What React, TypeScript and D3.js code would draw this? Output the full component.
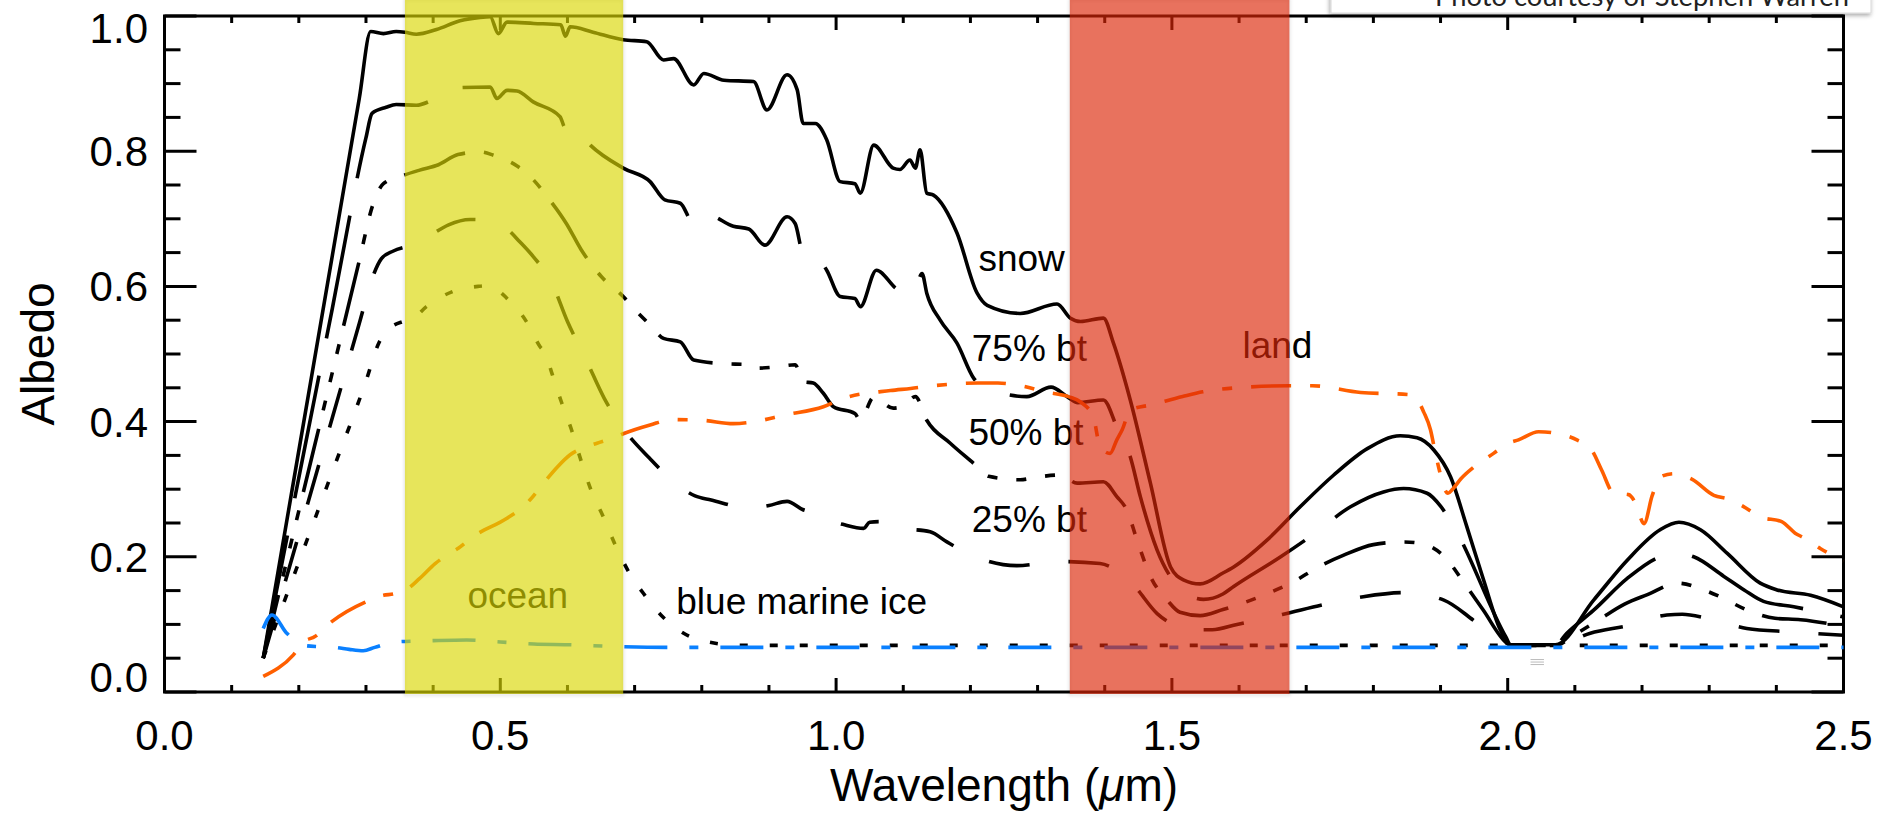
import React from "react";
import * as d3 from "d3";

type Pt = [number, number];

// Axis ticks and labels
const xMajorTicks = [0, 0.5, 1.0, 1.5, 2.0, 2.5];
const xTickLabels = ["0.0", "0.5", "1.0", "1.5", "2.0", "2.5"];
const yMajorTicks = [0, 0.2, 0.4, 0.6, 0.8, 1.0];
const yTickLabels = ["0.0", "0.2", "0.4", "0.6", "0.8", "1.0"];

// Highlighted wavelength bands (µm)
const visibleBand: Pt = [0.358, 0.683];
const nirBand: Pt = [1.348, 1.675];

// Spectral albedo curves: [wavelength µm, albedo]
const snow: Pt[] = [
  [0.147, 0.05], [0.2, 0.357], [0.25, 0.646], [0.29, 0.878], [0.307, 0.977], [0.326, 0.974],
  [0.345, 0.977], [0.358, 0.976], [0.375, 0.973],
  [0.405, 0.98], [0.44, 0.993], [0.47, 0.998], [0.485, 0.999], [0.497, 0.974], [0.51, 0.991],
  [0.55, 0.989], [0.59, 0.987], [0.597, 0.97], [0.604, 0.984], [0.638, 0.976], [0.683, 0.965],
  [0.718, 0.962], [0.743, 0.935], [0.758, 0.937], [0.788, 0.898], [0.803, 0.915], [0.833, 0.905],
  [0.877, 0.903], [0.897, 0.861], [0.927, 0.913], [0.942, 0.891], [0.951, 0.841], [0.969, 0.841],
  [0.986, 0.817], [1.006, 0.755], [1.028, 0.752], [1.036, 0.738], [1.056, 0.809], [1.085, 0.775],
  [1.095, 0.773], [1.11, 0.787], [1.118, 0.775], [1.125, 0.802], [1.135, 0.738], [1.145, 0.735],
  [1.18, 0.679], [1.21, 0.59], [1.225, 0.572], [1.274, 0.56], [1.329, 0.574], [1.349, 0.553],
  [1.364, 0.548], [1.398, 0.553], [1.413, 0.516], [1.438, 0.432], [1.468, 0.309], [1.498, 0.185],
  [1.517, 0.166], [1.542, 0.16], [1.576, 0.176], [1.592, 0.185], [1.642, 0.225], [1.691, 0.274],
  [1.741, 0.321], [1.791, 0.36], [1.84, 0.379], [1.865, 0.376], [1.89, 0.358], [1.915, 0.318],
  [1.939, 0.245], [1.964, 0.166], [1.989, 0.092], [2.004, 0.07], [2.071, 0.07], [2.128, 0.136],
  [2.178, 0.195], [2.227, 0.24], [2.255, 0.251], [2.287, 0.24], [2.327, 0.205], [2.376, 0.161],
  [2.401, 0.151], [2.451, 0.143], [2.5, 0.126],
];

const bt75: Pt[] = [
  [0.147, 0.05], [0.2, 0.317], [0.25, 0.568], [0.3, 0.82], [0.309, 0.856], [0.33, 0.865],
  [0.345, 0.869], [0.375, 0.868],
  [0.4, 0.876], [0.438, 0.894], [0.485, 0.895], [0.495, 0.878], [0.51, 0.89], [0.525, 0.889],
  [0.549, 0.873], [0.589, 0.851], [0.597, 0.834], [0.607, 0.839], [0.634, 0.809], [0.683, 0.775],
  [0.723, 0.755], [0.745, 0.728], [0.768, 0.723], [0.788, 0.693], [0.808, 0.706], [0.847, 0.689],
  [0.87, 0.685], [0.894, 0.661], [0.927, 0.703], [0.939, 0.693], [0.951, 0.649], [0.969, 0.646],
  [0.986, 0.624], [1.006, 0.585], [1.028, 0.582], [1.036, 0.57], [1.06, 0.624], [1.095, 0.595],
  [1.11, 0.609], [1.118, 0.6], [1.128, 0.619], [1.135, 0.59], [1.155, 0.55], [1.18, 0.516],
  [1.205, 0.464], [1.225, 0.449], [1.284, 0.437], [1.32, 0.451], [1.344, 0.437], [1.36, 0.428],
  [1.398, 0.432], [1.418, 0.392], [1.438, 0.348], [1.453, 0.289], [1.478, 0.21], [1.503, 0.163],
  [1.525, 0.143], [1.547, 0.137], [1.576, 0.145], [1.592, 0.156], [1.662, 0.2], [1.709, 0.232],
  [1.766, 0.274], [1.815, 0.296], [1.845, 0.301], [1.88, 0.294], [1.9, 0.275], [1.92, 0.244],
  [1.997, 0.082], [2.004, 0.07], [2.071, 0.07], [2.088, 0.087], [2.128, 0.121], [2.178, 0.168],
  [2.227, 0.2], [2.255, 0.205], [2.277, 0.2], [2.322, 0.171], [2.352, 0.151], [2.381, 0.134],
  [2.426, 0.126], [2.5, 0.111],
];

const bt50: Pt[] = [
  [0.147, 0.05], [0.2, 0.268], [0.25, 0.473], [0.29, 0.638], [0.31, 0.72], [0.326, 0.752],
  [0.358, 0.765], [0.38, 0.772], [0.408, 0.78],
  [0.437, 0.795], [0.47, 0.799], [0.49, 0.794], [0.525, 0.778], [0.545, 0.762], [0.572, 0.73],
  [0.599, 0.692], [0.62, 0.655], [0.65, 0.615], [0.683, 0.585], [0.703, 0.563], [0.723, 0.543],
  [0.743, 0.523], [0.768, 0.518], [0.788, 0.491], [0.827, 0.486], [0.872, 0.484], [0.882, 0.479],
  [0.912, 0.481], [0.939, 0.484], [0.951, 0.459], [0.966, 0.457], [0.981, 0.442], [0.996, 0.422],
  [1.028, 0.412], [1.036, 0.402], [1.056, 0.436], [1.085, 0.42], [1.1, 0.423], [1.118, 0.437],
  [1.135, 0.402], [1.17, 0.368], [1.205, 0.338], [1.227, 0.319], [1.274, 0.314], [1.3, 0.318],
  [1.334, 0.321], [1.359, 0.309], [1.398, 0.311], [1.418, 0.289], [1.433, 0.269], [1.448, 0.225],
  [1.468, 0.171], [1.493, 0.136], [1.512, 0.118], [1.542, 0.113], [1.576, 0.122], [1.646, 0.147],
  [1.681, 0.163], [1.718, 0.185], [1.755, 0.202], [1.8, 0.218], [1.845, 0.222], [1.874, 0.219],
  [1.906, 0.2], [1.934, 0.163], [1.963, 0.122], [1.999, 0.072], [2.004, 0.069], [2.071, 0.069],
  [2.1, 0.085], [2.136, 0.107], [2.174, 0.13], [2.208, 0.144], [2.253, 0.161], [2.292, 0.151],
  [2.316, 0.141], [2.357, 0.121], [2.398, 0.109], [2.436, 0.107], [2.5, 0.097],
];

const bt25: Pt[] = [
  [0.147, 0.05], [0.2, 0.233], [0.25, 0.406], [0.29, 0.545], [0.31, 0.614], [0.323, 0.641],
  [0.34, 0.652], [0.358, 0.658], [0.375, 0.661],
  [0.4, 0.678], [0.423, 0.691], [0.455, 0.699], [0.482, 0.698], [0.51, 0.685], [0.529, 0.666],
  [0.55, 0.643], [0.576, 0.607], [0.6, 0.548], [0.628, 0.491], [0.655, 0.434], [0.683, 0.39],
  [0.722, 0.346], [0.764, 0.306], [0.79, 0.29], [0.814, 0.284], [0.871, 0.272], [0.9, 0.276],
  [0.927, 0.282], [0.95, 0.27], [0.97, 0.264], [0.986, 0.255], [1.01, 0.248], [1.041, 0.242],
  [1.05, 0.251], [1.065, 0.252], [1.093, 0.243], [1.14, 0.237], [1.165, 0.222], [1.205, 0.201],
  [1.269, 0.187], [1.334, 0.193], [1.393, 0.19], [1.423, 0.176], [1.443, 0.158], [1.478, 0.116],
  [1.503, 0.099], [1.532, 0.092], [1.56, 0.092], [1.597, 0.1], [1.666, 0.115], [1.725, 0.129],
  [1.785, 0.141], [1.845, 0.147], [1.905, 0.136], [1.952, 0.104], [1.999, 0.072], [2.004, 0.069],
  [2.071, 0.069], [2.123, 0.087], [2.183, 0.099], [2.237, 0.114], [2.26, 0.115], [2.297, 0.109],
  [2.356, 0.094], [2.421, 0.089], [2.5, 0.084],
];

const marineIce: Pt[] = [
  [0.147, 0.05], [0.2, 0.192], [0.25, 0.326], [0.3, 0.46], [0.319, 0.516], [0.333, 0.536],
  [0.355, 0.548], [0.368, 0.551],
  [0.39, 0.57], [0.428, 0.592], [0.467, 0.6], [0.48, 0.601], [0.505, 0.587], [0.515, 0.577],
  [0.532, 0.558], [0.542, 0.543], [0.559, 0.511], [0.567, 0.501], [0.577, 0.471], [0.591, 0.429],
  [0.606, 0.388], [0.62, 0.343], [0.635, 0.299], [0.653, 0.26], [0.671, 0.218], [0.691, 0.178],
  [0.713, 0.146], [0.741, 0.112], [0.773, 0.087], [0.82, 0.072], [0.853, 0.069], [2.5, 0.069],
];

const ocean: Pt[] = [
  [0.147, 0.094], [0.16, 0.114], [0.182, 0.087], [0.207, 0.069], [0.23, 0.067], [0.254, 0.066],
  [0.275, 0.063], [0.296, 0.061], [0.313, 0.066], [0.343, 0.074], [0.4, 0.076], [0.45, 0.077],
  [0.5, 0.074], [0.55, 0.071], [0.6, 0.07], [0.68, 0.067], [0.75, 0.066], [2.5, 0.066],
];

const land: Pt[] = [
  [0.147, 0.023], [0.192, 0.055], [0.207, 0.074], [0.224, 0.082], [0.249, 0.104], [0.299, 0.133],
  [0.326, 0.143], [0.341, 0.145], [0.358, 0.15], [0.38, 0.168], [0.403, 0.19], [0.425, 0.205],
  [0.438, 0.213], [0.46, 0.23], [0.51, 0.257], [0.534, 0.274], [0.544, 0.284], [0.562, 0.306],
  [0.585, 0.333], [0.604, 0.351], [0.629, 0.363], [0.644, 0.368], [0.671, 0.377], [0.683, 0.382],
  [0.723, 0.395], [0.755, 0.403], [0.8, 0.402], [0.847, 0.397], [0.879, 0.4], [0.924, 0.41],
  [0.981, 0.422], [1.009, 0.434], [1.081, 0.446], [1.111, 0.449], [1.144, 0.453], [1.211, 0.457],
  [1.241, 0.457], [1.28, 0.452], [1.31, 0.444], [1.346, 0.437], [1.364, 0.429], [1.383, 0.407],
  [1.393, 0.363], [1.408, 0.353], [1.418, 0.373], [1.426, 0.388], [1.438, 0.417], [1.47, 0.425],
  [1.516, 0.437], [1.546, 0.444], [1.612, 0.451], [1.674, 0.453], [1.709, 0.453], [1.781, 0.443],
  [1.853, 0.44], [1.865, 0.433], [1.875, 0.414], [1.885, 0.388], [1.892, 0.355], [1.899, 0.325],
  [1.905, 0.303], [1.911, 0.294], [1.918, 0.3], [1.93, 0.315], [1.95, 0.333], [1.979, 0.353],
  [2.001, 0.368], [2.016, 0.373], [2.046, 0.385], [2.075, 0.382], [2.103, 0.373], [2.125, 0.358],
  [2.14, 0.328], [2.158, 0.294], [2.18, 0.292], [2.19, 0.28], [2.203, 0.249], [2.215, 0.29],
  [2.227, 0.318], [2.247, 0.323], [2.274, 0.315], [2.307, 0.291], [2.33, 0.285], [2.35, 0.275],
  [2.376, 0.259], [2.408, 0.252], [2.428, 0.235], [2.441, 0.228], [2.466, 0.212], [2.5, 0.194],
];

// Curve labels: [text, wavelength, albedo at baseline]
const curveLabels: [string, number, number][] = [
  ["snow", 1.212, 0.623],
  ["75% bt", 1.202, 0.489],
  ["50% bt", 1.197, 0.365],
  ["25% bt", 1.202, 0.236],
  ["blue marine ice", 0.762, 0.115],
  ["ocean", 0.451, 0.124],
  ["land", 1.605, 0.494],
];

const W = 1883;
const H = 822;
const M = { left: 164.5, right: 1843.5, top: 16, bottom: 692 };
const FONT = "'Liberation Sans', Arial, Helvetica, sans-serif";

export default function App() {
  const x = d3.scaleLinear().domain([0, 2.5]).range([M.left, M.right]);
  const y = d3.scaleLinear().domain([0, 1]).range([M.bottom, M.top]);
  const line = d3
    .line<Pt>()
    .x((d) => x(d[0]))
    .y((d) => y(d[1]))
    .curve(d3.curveMonotoneX);

  const xMinor = d3.range(0, 2.5001, 0.1);
  const yMinor = d3.range(0, 1.0001, 0.05);

  const series: { data: Pt[]; color: string; dash?: string }[] = [
    { data: marineIce, color: "#000", dash: "8 22" },
    { data: bt25, color: "#000", dash: "41 39" },
    { data: bt50, color: "#000", dash: "65 19 10 19 10 19 10 19" },
    { data: bt75, color: "#000", dash: "125 38" },
    { data: snow, color: "#000" },
    { data: ocean, color: "#0a80ff", dash: "43 22 9 22" },
    { data: land, color: "#ff5f00", dash: "40 19 10 19" },
  ];

  const yLabelBaseline = (v: number) => {
    if (v === 1) return 43;
    if (v === 0) return 692;
    return y(v) + 15;
  };

  const bandTop = 0;
  const bandBottom = M.bottom + 2;

  return (
    <svg width={W} height={H} style={{ display: "block", position: "absolute", left: 0, top: 0, background: "#fff" }}>
      <defs>
        <filter id="boxShadow" x="-5%" y="-50%" width="110%" height="200%">
          <feDropShadow dx="-1" dy="2" stdDeviation="2" floodColor="#000" floodOpacity="0.35" />
        </filter>
        <filter id="soft" x="-50%" y="-5%" width="200%" height="110%">
          <feGaussianBlur stdDeviation="1.5" />
        </filter>
      </defs>
      <rect x={0} y={0} width={W} height={H} fill="#fff" />

      {/* frame */}
      <rect
        x={M.left}
        y={M.top}
        width={M.right - M.left}
        height={M.bottom - M.top}
        fill="none"
        stroke="#000"
        strokeWidth={3}
      />

      {/* x ticks, bottom and top */}
      {xMinor.map((v, i) => {
        const major = Math.abs(v * 2 - Math.round(v * 2)) < 1e-6;
        const len = major ? 14 : 7;
        return (
          <g key={"xt" + i} stroke="#000" strokeWidth={3}>
            <line x1={x(v)} x2={x(v)} y1={M.bottom} y2={M.bottom - len} />
            <line x1={x(v)} x2={x(v)} y1={M.top} y2={M.top + len} />
          </g>
        );
      })}
      {/* y ticks, left and right */}
      {yMinor.map((v, i) => {
        const major = Math.abs(v * 5 - Math.round(v * 5)) < 1e-6;
        const len = major ? 32 : 16;
        return (
          <g key={"yt" + i} stroke="#000" strokeWidth={3}>
            <line x1={M.left} x2={M.left + len} y1={y(v)} y2={y(v)} />
            <line x1={M.right} x2={M.right - len} y1={y(v)} y2={y(v)} />
          </g>
        );
      })}

      {/* tick labels */}
      {xMajorTicks.map((v, i) => (
        <text key={"xl" + i} x={x(v)} y={750} textAnchor="middle" fontFamily={FONT} fontSize={42} fill="#000">
          {xTickLabels[i]}
        </text>
      ))}
      {yMajorTicks.map((v, i) => (
        <text key={"yl" + i} x={148} y={yLabelBaseline(v)} textAnchor="end" fontFamily={FONT} fontSize={42} fill="#000">
          {yTickLabels[i]}
        </text>
      ))}

      {/* axis titles */}
      <text x={(M.left + M.right) / 2} y={801} textAnchor="middle" fontFamily={FONT} fontSize={46} fill="#000">
        Wavelength (<tspan fontStyle="italic">μ</tspan>m)
      </text>
      <text
        transform={`translate(54, ${(M.top + M.bottom) / 2}) rotate(-90)`}
        textAnchor="middle"
        fontFamily={FONT}
        fontSize={46}
        fill="#000"
      >
        Albedo
      </text>

      {/* spectra */}
      {series.map((s, i) => (
        <path
          key={"s" + i}
          d={line(s.data) || ""}
          fill="none"
          stroke={s.color}
          strokeWidth={3.6}
          strokeDasharray={s.dash}
          strokeLinecap="butt"
          strokeLinejoin="round"
        />
      ))}

      {/* small marker in the 2 µm trough */}
      <g stroke="#bbb" strokeWidth={1}>
        {[0, 2.5, 5].map((o, i) => (
          <line key={"m" + i} x1={x(2.034)} x2={x(2.054)} y1={y(0.048) + o} y2={y(0.048) + o} />
        ))}
      </g>

      {/* curve labels */}
      {curveLabels.map(([t, wl, a], i) => (
        <text key={"cl" + i} x={x(wl)} y={y(a)} fontFamily={FONT} fontSize={37} fill="#000">
          {t}
        </text>
      ))}

      {/* faint edge shading of the bands */}
      <g filter="url(#soft)" fill="none" stroke="#000" strokeOpacity={0.12} strokeWidth={2}>
        {[visibleBand, nirBand].map((b, i) => (
          <rect key={"bs" + i} x={x(b[0])} y={bandTop} width={x(b[1]) - x(b[0])} height={bandBottom - bandTop + 1} />
        ))}
      </g>

      {/* translucent wavelength bands */}
      <rect
        x={x(visibleBand[0])}
        y={bandTop}
        width={x(visibleBand[1]) - x(visibleBand[0])}
        height={bandBottom - bandTop}
        fill="rgb(218,215,3)"
        fillOpacity={0.65}
      />
      <rect
        x={x(nirBand[0])}
        y={bandTop}
        width={x(nirBand[1]) - x(nirBand[0])}
        height={bandBottom - bandTop}
        fill="rgb(220,38,8)"
        fillOpacity={0.65}
      />

      {/* photo credit box */}
      <g filter="url(#boxShadow)">
        <rect x={1331} y={-30} width={540} height={43} fill="#fff" stroke="#d8d8d8" strokeWidth={1} />
      </g>
      <text x={1435} y={6} fontFamily="Lato, 'Open Sans', sans-serif" fontSize={27} fill="#222" textLength={414} lengthAdjust="spacingAndGlyphs">
        Photo courtesy of Stephen Warren
      </text>
    </svg>
  );
}
